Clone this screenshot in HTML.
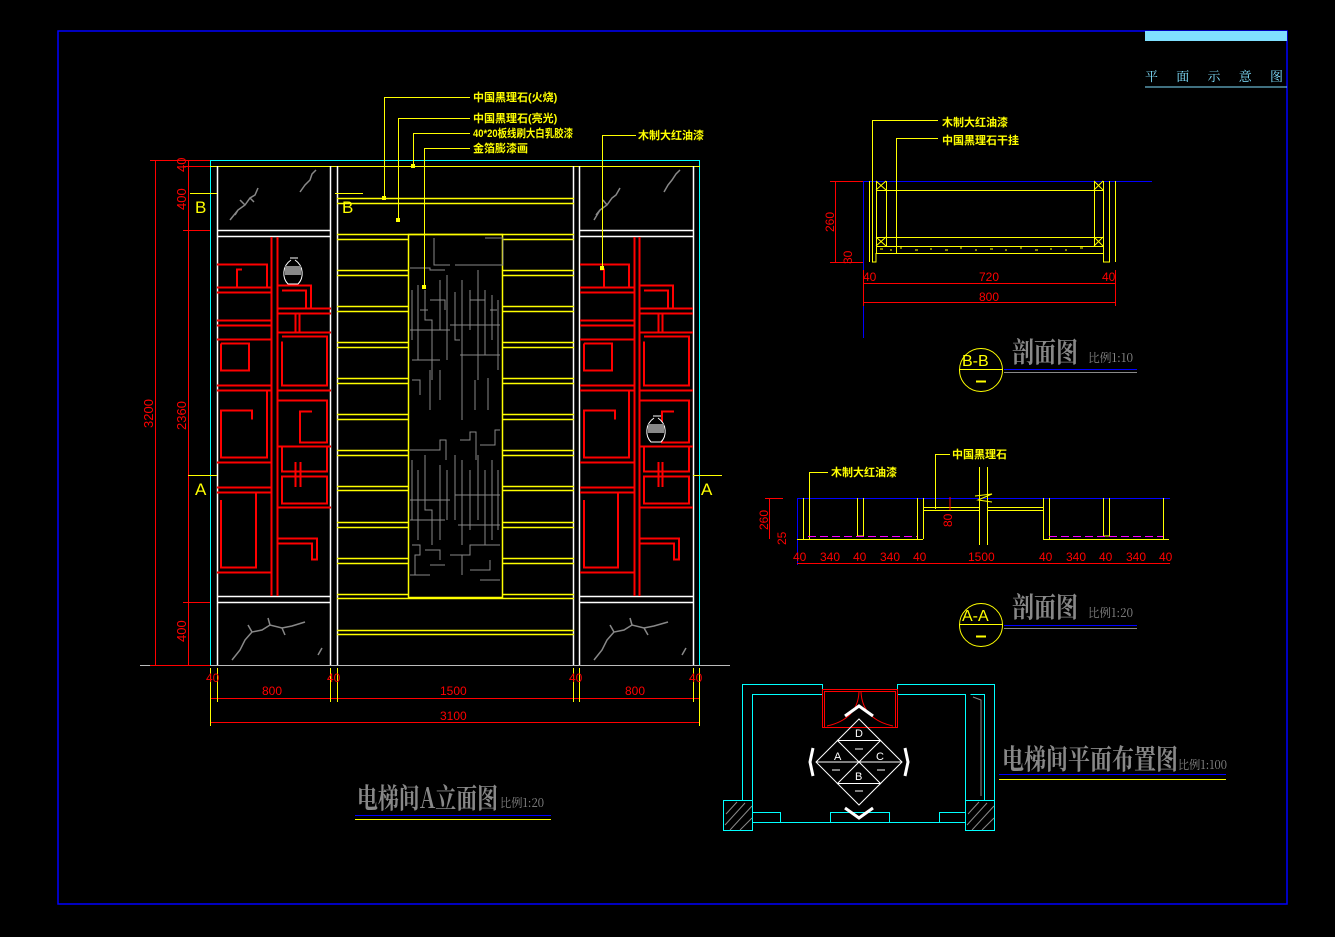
<!DOCTYPE html>
<html><head><meta charset="utf-8"><style>
html,body{margin:0;padding:0;background:#000;}
svg{display:block;}
text{font-family:"Liberation Sans","Noto Sans CJK SC",sans-serif;}
.cj{font-family:"Noto Serif CJK SC","Noto Sans CJK SC",serif;}
</style></head><body>
<svg width="1335" height="937" viewBox="0 0 1335 937" xmlns="http://www.w3.org/2000/svg">
<rect width="1335" height="937" fill="#000"/>
<rect x="58" y="31" width="1229" height="873" fill="none" stroke="#0000ff" stroke-width="1.5"/>
<rect x="1145" y="31" width="142" height="10" fill="#80e0ff"/>
<text x="1145" y="81" fill="#80e0ff" font-size="13" class="cj" textLength="138">平　面　示　意　图</text>
<line x1="1145" y1="87" x2="1287" y2="87" stroke="#80e0ff"/>

<g fill="none">
<rect x="210.5" y="160.5" width="489" height="505" stroke="#00ffff"/>
<line x1="210" y1="166.5" x2="700" y2="166.5" stroke="#ffff00"/>
<line x1="140" y1="665.5" x2="730" y2="665.5" stroke="#bbb"/>
<g stroke="#fff" stroke-width="1.5">
<line x1="217.5" y1="166" x2="217.5" y2="665"/><line x1="330.5" y1="166" x2="330.5" y2="665"/>
<line x1="337.5" y1="166" x2="337.5" y2="665"/><line x1="573.5" y1="166" x2="573.5" y2="665"/>
<line x1="579.5" y1="166" x2="579.5" y2="665"/><line x1="693.5" y1="166" x2="693.5" y2="665"/>
<line x1="217" y1="230.5" x2="331" y2="230.5"/><line x1="217" y1="236.5" x2="331" y2="236.5"/>
<line x1="580" y1="230.5" x2="693" y2="230.5"/><line x1="580" y1="236.5" x2="693" y2="236.5"/>
<line x1="217" y1="596.5" x2="331" y2="596.5"/><line x1="217" y1="602.5" x2="331" y2="602.5"/>
<line x1="580" y1="596.5" x2="693" y2="596.5"/><line x1="580" y1="602.5" x2="693" y2="602.5"/>
</g>
<g stroke="#ffff00" stroke-width="1.5">
<line x1="337" y1="198.5" x2="574" y2="198.5"/><line x1="337" y1="203.5" x2="574" y2="203.5"/>
<rect x="408.5" y="234.5" width="94" height="363"/>
<line x1="337" y1="234.5" x2="574" y2="234.5"/><line x1="337" y1="598.5" x2="574" y2="598.5"/>
<line x1="337" y1="630.5" x2="574" y2="630.5"/><line x1="337" y1="634.5" x2="574" y2="634.5"/>
<path d="M337 239.5H408M502 239.5H574M337 270.5H408M502 270.5H574M337 275.5H408M502 275.5H574
M337 306.5H408M502 306.5H574M337 311.5H408M502 311.5H574M337 342.5H408M502 342.5H574M337 347.5H408M502 347.5H574
M337 378.5H408M502 378.5H574M337 383.5H408M502 383.5H574M337 414.5H408M502 414.5H574M337 419.5H408M502 419.5H574
M337 450.5H408M502 450.5H574M337 455.5H408M502 455.5H574M337 486.5H408M502 486.5H574M337 490.5H408M502 490.5H574
M337 522.5H408M502 522.5H574M337 527.5H408M502 527.5H574M337 558.5H408M502 558.5H574M337 563.5H408M502 563.5H574
M337 594.5H408M502 594.5H574"/>
</g>
<g stroke="#888" stroke-width="1">
<path d="M434 238V265H450M485 238H503V265H480M410 268H430V270H445M455 265H500M412 290V340M418 285V360M425 290V320H432V380M440 280V330M447 275V360M455 292V340H460M462 280V385M470 290V330M478 270V380M485 290V355M492 295V340M498 300V370M410 330H450M450 325H500M412 360H440M460 355H500M430 300H445V310M470 300H485V310M420 310H428M490 310H497"/>
<path d="M412 380H420V395M430 370V410M440 370V400M462 385V420M475 380V410M488 378V410M410 450H440V440H446V460M460 440H470V432H476V460M480 445H495V430H500M412 460V520M418 470V540M425 455V510H432V545M440 465V540M447 470V520M455 455V520M462 460V545M470 470V530M478 455V520M485 470V545M492 460V540M498 470V530M410 500H450M455 495H500M410 520H445M458 525H500"/>
<path d="M412 545H420V555H415V575M425 550H440V560M450 555H470V545H500M462 555V575M430 565H445M470 570H490V560M410 575H430M480 580H500"/>
</g>
<g stroke="#ff0000" stroke-width="2">
<line x1="271.5" y1="237" x2="271.5" y2="596"/><line x1="277.5" y1="237" x2="277.5" y2="596"/>
<path d="M217 264.5H267V287.5H237V269.5H242"/>
<path d="M217 287.5H271M217 292.5H271M217 320.5H271M217 325.5H271M217 339.5H271M217 385.5H271M217 390.5H271M217 462.5H271M217 487.5H271M217 492.5H271M217 572.5H271"/>
<path d="M221 343.5H249V370.5H221V343.5"/>
<path d="M221 390.5H267V457.5H221V410.5H252V419.5"/>
<path d="M221 492.5H256V567.5H221V500"/>
<path d="M278 285.5H311V308.5H306V290.5H282"/>
<path d="M278 308.5H331M278 313.5H331M278 332.5H331M278 390.5H331M278 446.5H331M278 507.5H331"/>
<path d="M282 336.5H327V385.5H282V341.5"/>
<path d="M278 400.5H327V442.5H300V411.5H312"/>
<path d="M282 446.5H327V471.5H282Z"/><path d="M282 476.5H327V503.5H282Z"/>
<path d="M278 538.5H317V559.5H312V543.5H278"/>
<line x1="295.5" y1="462" x2="295.5" y2="487"/><line x1="300.5" y1="462" x2="300.5" y2="487"/>
<line x1="295.5" y1="313" x2="295.5" y2="332"/><line x1="299.5" y1="313" x2="299.5" y2="332"/>
</g>
<g stroke="#ff0000" stroke-width="2">
<line x1="634.5" y1="237" x2="634.5" y2="596"/><line x1="639.5" y1="237" x2="639.5" y2="596"/>
<path d="M580 264.5H629V287.5H604V269.5H600"/>
<path d="M580 287.5H634M580 292.5H634M580 320.5H634M580 325.5H634M580 339.5H634M580 385.5H634M580 390.5H634M580 462.5H634M580 487.5H634M580 492.5H634M580 572.5H634"/>
<path d="M584 343.5H612V370.5H584V343.5"/>
<path d="M584 390.5H629V457.5H584V410.5H615V419.5"/>
<path d="M584 492.5H618V567.5H584V500"/>
<path d="M640 285.5H673V308.5H668V290.5H644"/>
<path d="M640 308.5H693M640 313.5H693M640 332.5H693M640 390.5H693M640 446.5H693M640 507.5H693"/>
<path d="M644 336.5H689V385.5H644V341.5"/>
<path d="M640 400.5H689V442.5H662V411.5H674"/>
<path d="M644 446.5H689V471.5H644Z"/><path d="M644 476.5H689V503.5H644Z"/>
<path d="M640 538.5H679V559.5H674V543.5H640"/>
<line x1="658.5" y1="462" x2="658.5" y2="487"/><line x1="662.5" y1="462" x2="662.5" y2="487"/>
<line x1="658.5" y1="313" x2="658.5" y2="332"/><line x1="662.5" y1="313" x2="662.5" y2="332"/>
</g>
<g stroke="#fff">
<path d="M290 258H298M291 260C282 266 282 278 288 284H298C304 278 304 266 295 260" fill="#000"/>
<rect x="285" y="266" width="16" height="9" fill="#888" stroke="none"/>
<path d="M653 416H661M654 418C645 424 645 436 651 442H661C667 436 667 424 658 418" fill="#000"/>
<rect x="648" y="424" width="16" height="9" fill="#888" stroke="none"/>
</g>
<g stroke="#888" stroke-width="1.5">
<path d="M230 220L238 210L245 205L250 198L255 195L258 188M245 205L240 200M250 198L254 202M238 210L235 215M300 192L305 185L310 180L312 174L316 170"/>
<path d="M594 220L600 210L607 205L612 198L616 195L620 188M607 205L603 200M600 210L596 215M664 192L668 185L672 180L676 174L680 170"/>
<path d="M232 660L240 650L245 640L252 632L262 630L270 625L282 628L292 626L305 622M252 632L248 625M270 625L268 618M282 628L285 635M318 655L322 648"/>
<path d="M594 660L602 650L607 640L614 632L624 630L632 625L644 628L654 626L668 622M614 632L610 625M632 625L630 618M644 628L648 635M682 655L686 648"/>
</g>
<g stroke="#ff0000">
<line x1="155.5" y1="160" x2="155.5" y2="665"/>
<line x1="188.5" y1="160" x2="188.5" y2="665"/>
<path d="M150 160.5H210M183 166.5H210M183 230.5H210M183 602.5H210M150 665.5H210"/>
</g>
<g fill="#ff0000" font-size="13">
<text transform="translate(153,428) rotate(-90)">3200</text>
<text transform="translate(186,430) rotate(-90)">2360</text>
<text transform="translate(186,172) rotate(-90)">40</text>
<text transform="translate(186,210) rotate(-90)">400</text>
<text transform="translate(186,642) rotate(-90)">400</text>
</g>
<g stroke="#ff0000">
<line x1="210" y1="698.5" x2="700" y2="698.5"/>
<line x1="210" y1="722.5" x2="700" y2="722.5"/>
</g>
<g stroke="#ffff00">
<path d="M210.5 668V726M217.5 668V702M330.5 668V702M337.5 668V702M573.5 668V702M579.5 668V702M693.5 668V702M699.5 668V726"/>
</g>
<g fill="#ff0000" font-size="12">
<text x="206" y="682">40</text><text x="262" y="695">800</text><text x="327" y="682">40</text>
<text x="440" y="695">1500</text><text x="569" y="682">40</text><text x="625" y="695">800</text><text x="689" y="682">40</text>
<text x="440" y="720">3100</text>
</g>
<g stroke="#ffff00">
<path d="M190 193.5H217M335 193.5H363M188 475.5H217M693 475.5H722"/>
</g>
<g fill="#ffff00" font-size="17">
<text x="195" y="213">B</text><text x="342" y="213">B</text><text x="195" y="495">A</text><text x="701" y="495">A</text>
</g>
<g stroke="#ffff00">
<path d="M384.5 97V198M384 97.5H470M398.5 118V220M398 118.5H470M413.5 133V166M413 133.5H470M424.5 148V287M424 148.5H470M602.5 135V268M602 135.5H636"/>
</g>
<g fill="#ffff00">
<rect x="382" y="196" width="4" height="4"/><rect x="396" y="218" width="4" height="4"/><rect x="411" y="164" width="4" height="4"/><rect x="422" y="285" width="4" height="4"/><rect x="600" y="266" width="4" height="4"/>
</g>
<g fill="#ffff00" font-size="11" font-weight="bold" class="cj">
<text x="473" y="101">中国黑理石(火烧)</text>
<text x="473" y="122">中国黑理石(亮光)</text>
<text x="473" y="137" textLength="100" lengthAdjust="spacingAndGlyphs">40*20板线刷大白乳胶漆</text>
<text x="473" y="152">金箔膨漆画</text>
<text x="638" y="139">木制大红油漆</text>
</g>
<text x="357" y="808" fill="#888" font-size="28" font-weight="bold" class="cj" textLength="141" lengthAdjust="spacingAndGlyphs">电梯间A立面图</text>
<text x="500" y="807" fill="#888" font-size="12" class="cj" textLength="44" lengthAdjust="spacingAndGlyphs">比例1:20</text>
<line x1="355" y1="815.5" x2="551" y2="815.5" stroke="#0000ff"/>
<line x1="355" y1="819.5" x2="551" y2="819.5" stroke="#ffff00"/>

<!-- B-B -->
<line x1="863" y1="181.5" x2="1152" y2="181.5" stroke="#0000ff"/>
<line x1="863.5" y1="181" x2="863.5" y2="338" stroke="#0000ff"/>
<g stroke="#ffff00">
<path d="M869.5 181V262M872.5 181V262H876V253M876.5 181V253M886.5 181V246M1094.5 181V246M1103.5 181V262M1109.5 181V262H1103M1115.5 181V262"/>
<path d="M876 190.5H1103M876 237.5H1103M876 246.5H1103M876 253.5H1103"/>
<path d="M876 181L886 190M886 181L876 190M876 237L886 246M886 237L876 246M1094 181L1103 190M1103 181L1094 190M1094 237L1103 246M1103 237L1094 246"/>
<path d="M872.5 120V262M872 120.5H938M896.5 138V253M896 138.5H938" />
</g>
<path d="M880 249h3M890 250h2M900 248h2M915 250h3M930 249h2M945 250h3M960 248h2M975 250h2M990 249h3M1005 250h2M1020 248h2M1035 250h3M1050 249h2M1065 250h2M1080 248h3" stroke="#ffff00"/>
<g stroke="#ff0000">
<path d="M835.5 181V262M830 181.5H863M830 262.5H863M864 283.5H1115M864 302.5H1115M863.5 270V306M1115.5 270V306"/>
</g>
<g fill="#ff0000" font-size="12">
<text transform="translate(834,232) rotate(-90)">260</text>
<text transform="translate(852,264) rotate(-90)">30</text>
<text x="863" y="281">40</text><text x="979" y="281">720</text><text x="1102" y="281">40</text><text x="979" y="301">800</text>
</g>
<g fill="#ffff00" font-size="11" font-weight="bold" class="cj">
<text x="942" y="126">木制大红油漆</text><text x="942" y="144">中国黑理石干挂</text>
</g>
<circle cx="981" cy="370" r="21.5" fill="none" stroke="#ffff00"/>
<line x1="959" y1="369.5" x2="1003" y2="369.5" stroke="#ffff00"/>
<text x="962" y="366" fill="#ffff00" font-size="16">B-B</text>
<line x1="976" y1="381.5" x2="986" y2="381.5" stroke="#ffff00" stroke-width="2"/>
<text x="1012" y="362" fill="#888" font-size="28" font-weight="bold" class="cj" textLength="66" lengthAdjust="spacingAndGlyphs">剖面图</text>
<text x="1088" y="362" fill="#888" font-size="12" class="cj" textLength="45" lengthAdjust="spacingAndGlyphs">比例1:10</text>
<line x1="1004" y1="369.5" x2="1137" y2="369.5" stroke="#0000ff"/>
<line x1="1004" y1="372.5" x2="1137" y2="372.5" stroke="#888"/>

<!-- A-A -->
<line x1="797" y1="498.5" x2="1170" y2="498.5" stroke="#0000ff"/>
<line x1="797.5" y1="498" x2="797.5" y2="565" stroke="#0000ff"/>
<g stroke="#ffff00">
<path d="M797 539.5H923M1043 539.5H1169M803.5 498V539M857.5 498V536M863.5 498V536H857M917.5 498V539M923.5 498V539M1043.5 498V539M1049.5 498V539M1103.5 498V536M1109.5 498V536H1103M1163.5 498V539"/>
<path d="M923 507.5H979M987 507.5H1043M923 510.5H979M987 510.5H1043M979.5 467V545M987.5 467V545"/>
<path d="M809.5 472V539M809 472.5H828M935.5 454V509M935 454.5H950"/>
</g>
<path d="M975 496L992 494L978 500L992 502" stroke="#ffff00" fill="none"/>
<g stroke="#ff00ff" stroke-dasharray="8,4"><line x1="808" y1="536.5" x2="917" y2="536.5"/><line x1="1049" y1="536.5" x2="1163" y2="536.5"/></g>
<g stroke="#ff0000">
<path d="M797 563.5H1170M769.5 498V539M765 498.5H783M950 497V510"/>
</g>
<g fill="#ff0000" font-size="12">
<text transform="translate(768,530) rotate(-90)">260</text>
<text transform="translate(786,545) rotate(-90)">25</text>
<text transform="translate(952,527) rotate(-90)">80</text>
<text x="793" y="561">40</text><text x="820" y="561">340</text><text x="853" y="561">40</text><text x="880" y="561">340</text><text x="913" y="561">40</text>
<text x="968" y="561">1500</text>
<text x="1039" y="561">40</text><text x="1066" y="561">340</text><text x="1099" y="561">40</text><text x="1126" y="561">340</text><text x="1159" y="561">40</text>
</g>
<g fill="#ffff00" font-size="11" font-weight="bold" class="cj">
<text x="831" y="476">木制大红油漆</text><text x="952" y="458">中国黑理石</text>
</g>
<circle cx="981" cy="625" r="21.5" fill="none" stroke="#ffff00"/>
<line x1="959" y1="624.5" x2="1003" y2="624.5" stroke="#ffff00"/>
<text x="962" y="621" fill="#ffff00" font-size="16">A-A</text>
<line x1="976" y1="636.5" x2="986" y2="636.5" stroke="#ffff00" stroke-width="2"/>
<text x="1012" y="617" fill="#888" font-size="28" font-weight="bold" class="cj" textLength="66" lengthAdjust="spacingAndGlyphs">剖面图</text>
<text x="1088" y="617" fill="#888" font-size="12" class="cj" textLength="45" lengthAdjust="spacingAndGlyphs">比例1:20</text>
<line x1="1004" y1="625.5" x2="1137" y2="625.5" stroke="#0000ff"/>
<line x1="1004" y1="628.5" x2="1137" y2="628.5" stroke="#888"/>

<!-- PLAN -->
<g stroke="#00ffff">
<path d="M742.5 800V684.5H822.5V694.5H752.5V812M897.5 694.5V684.5H994.5V830M897.5 694.5H965.5V800M970.5 694.5H984.5V800"/>
<path d="M723.5 800.5H752.5V830.5H723.5Z M965.5 800.5H994.5V830.5H965.5Z"/>
<path d="M752 822.5H965M752 812.5H780.5V822M830.5 822V812.5H889.5V822M939.5 822V812.5H965"/>
</g>
<g stroke="#888"><path d="M725 825L745 803M730 830L752 806M740 830L752 818M726 814L737 802M967 825L987 803M972 830L994 806M982 830L994 818M968 814L979 802"/><path d="M973 697L981 700V796" fill="none"/></g>
<g stroke="#ff0000" fill="none">
<rect x="822.5" y="689.5" width="75" height="38"/><rect x="824.5" y="691.5" width="71" height="36"/>
<path d="M827 726C845 722 858 712 859 692M893 726C875 722 862 712 861 692"/>
</g>
<g stroke="#fff" fill="none">
<path d="M859 719L902 762L859 805L816 762Z M837 740.5H881M837 783.5H881M816 762H902M837 740L881 784M881 740L837 784"/>
<path d="M845 716L859 706L873 716M845 808L859 818L873 808M813 748L810 762L813 776M905 748L908 762L905 776" stroke-width="3"/>
</g>
<g fill="#fff" font-size="11" font-family="Liberation Serif,serif">
<text x="855" y="737">D</text><text x="834" y="760">A</text><text x="876" y="760">C</text><text x="855" y="780">B</text>
</g>
<g stroke="#fff"><path d="M855 749h8M832 770h8M877 770h8M855 791h8"/></g>
<text x="1002" y="769" fill="#888" font-size="28" font-weight="bold" class="cj" textLength="176" lengthAdjust="spacingAndGlyphs">电梯间平面布置图</text>
<text x="1178" y="769" fill="#888" font-size="12" class="cj" textLength="49" lengthAdjust="spacingAndGlyphs">比例1:100</text>
<line x1="999" y1="774.5" x2="1226" y2="774.5" stroke="#0000ff"/>
<line x1="999" y1="779.5" x2="1226" y2="779.5" stroke="#ffff00"/>
</g>
</svg>
</body></html>
